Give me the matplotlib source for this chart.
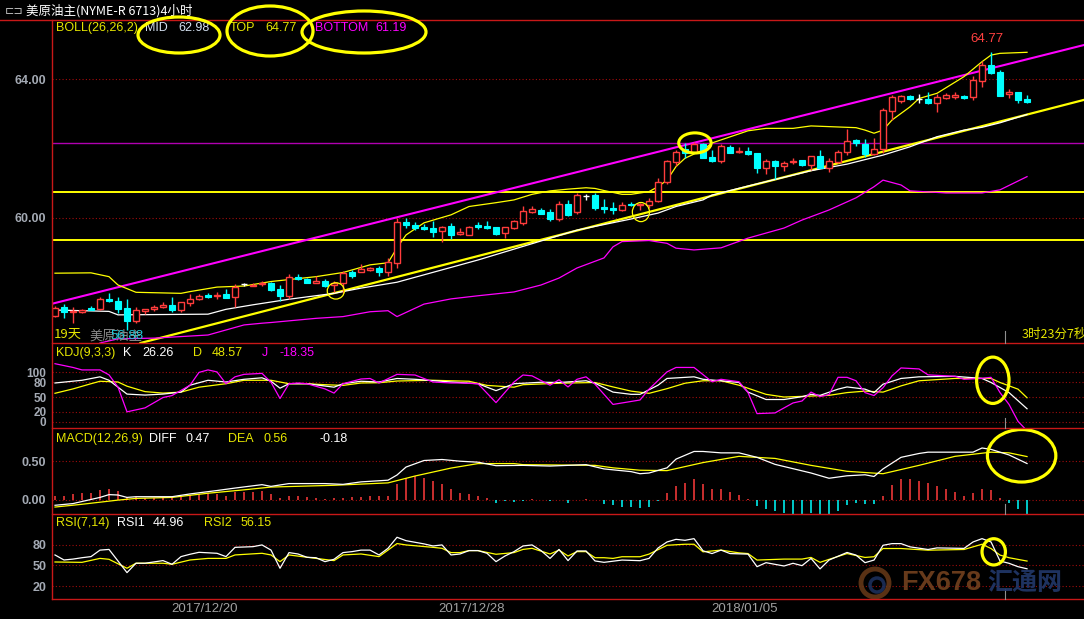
import matplotlib
matplotlib.use('Agg')
import matplotlib.pyplot as plt
from matplotlib.patches import Rectangle, Ellipse
from matplotlib.lines import Line2D

# ---------------- data ----------------
opens = [57.19,57.43,57.29,57.30,57.41,57.37,57.67,57.62,57.40,57.02,
         57.33,57.37,57.43,57.50,57.35,57.56,57.66,57.78,57.75,57.80,
         57.72,58.09,58.04,58.10,58.13,57.95,57.74,58.31,58.24,58.14,
         58.19,58.07,58.12,58.43,58.45,58.50,58.55,58.44,58.71,59.89,
         59.80,59.75,59.71,59.62,59.76,59.54,59.52,59.79,59.78,59.73,
         59.56,59.72,59.86,60.18,60.24,60.17,59.97,60.39,60.17,60.64,
         60.65,60.31,60.28,60.24,60.41,60.37,60.38,60.50,61.04,61.62,
         62.00,61.90,62.13,61.75,61.64,62.03,61.89,61.92,61.86,61.44,
         61.64,61.51,61.61,61.66,61.52,61.78,61.45,61.62,61.90,62.24,
         62.13,61.84,61.99,63.09,63.38,63.51,63.42,63.42,63.32,63.46,
         63.48,63.51,63.49,63.95,64.40,64.20,63.56,63.63,63.42]
highs = [57.47,57.52,57.43,57.38,57.46,57.73,57.83,57.73,57.66,57.43,
         57.38,57.48,57.59,57.72,57.59,57.80,57.81,57.84,57.88,57.95,
         58.10,58.13,58.12,58.18,58.17,58.07,58.38,58.38,58.27,58.33,
         58.24,58.19,58.46,58.50,58.68,58.60,58.62,58.84,60.00,60.01,
         59.88,59.82,59.92,59.77,59.86,59.70,59.77,59.88,59.91,59.75,
         59.75,59.94,60.35,60.35,60.28,60.25,60.49,60.52,60.73,60.69,
         60.73,60.54,60.47,60.45,60.47,60.43,60.58,61.14,61.66,61.95,
         62.15,62.19,62.15,61.95,62.13,62.10,62.03,62.03,61.87,61.69,
         61.66,61.64,61.74,61.68,61.79,61.95,61.74,61.97,62.56,62.27,
         62.27,62.29,63.18,63.54,63.54,63.54,63.57,63.63,63.57,63.61,
         63.62,63.54,64.09,64.53,64.77,64.26,63.70,63.63,63.53]
lows = [57.15,57.11,56.97,57.26,57.34,57.35,57.59,57.26,56.78,56.97,
        57.23,57.32,57.40,57.29,57.28,57.47,57.64,57.70,57.66,57.69,
        57.45,58.04,58.03,58.03,57.91,57.61,57.66,58.20,58.12,58.12,
        58.02,57.88,57.84,58.27,58.43,58.48,58.33,58.34,58.56,59.70,
        59.65,59.65,59.46,59.32,59.39,59.50,59.51,59.68,59.68,59.51,
        59.43,59.68,59.81,60.14,60.11,59.91,59.91,60.07,60.12,60.52,
        60.23,60.14,60.11,60.21,60.35,60.23,60.28,60.45,60.97,61.49,
        61.74,61.86,61.72,61.62,61.57,61.86,61.86,61.81,61.30,61.28,
        61.11,61.35,61.55,61.51,61.38,61.43,61.33,61.57,61.81,62.07,
        61.76,61.81,61.86,62.82,63.32,63.40,63.32,63.28,63.06,63.42,
        63.43,63.42,63.40,63.76,64.14,63.52,63.44,63.32,63.32]
closes = [57.40,57.29,57.32,57.34,57.35,57.66,57.61,57.38,57.02,57.35,
          57.37,57.43,57.50,57.35,57.57,57.66,57.76,57.73,57.78,57.71,
          58.02,58.09,58.08,58.14,57.93,57.74,58.29,58.24,58.13,58.18,
          58.05,58.12,58.41,58.34,58.54,58.55,58.44,58.73,59.89,59.80,
          59.72,59.68,59.61,59.75,59.52,59.60,59.75,59.73,59.72,59.54,
          59.73,59.91,60.20,60.26,60.12,59.97,60.39,60.09,60.65,60.64,
          60.30,60.27,60.24,60.37,60.37,60.40,60.50,61.04,61.63,61.90,
          61.87,62.13,61.74,61.64,62.07,61.87,61.93,61.85,61.44,61.64,
          61.50,61.57,61.64,61.52,61.77,61.44,61.63,61.89,62.23,62.15,
          61.84,62.00,63.10,63.47,63.51,63.42,63.42,63.32,63.48,63.53,
          63.53,63.45,63.97,64.40,64.18,63.52,63.63,63.40,63.35]

boll_top_idx = [0,4,6,7,9,14,15,18,21,24,29,32,35,37,38,39,41,44,46,49,51,53,55,57,59,60,61,63,64,66,67,
                68,69,70,72,73,77,79,82,84,86,89,90,91,92,93,95,96,98,101,103,104,105,108]
boll_top_val = [58.41,58.42,58.31,58.07,57.86,57.83,57.88,58.01,58.04,58.17,58.31,58.43,58.65,58.71,59.14,
                59.51,59.86,60.09,60.33,60.44,60.52,60.68,60.78,60.83,60.87,60.85,60.79,60.68,60.68,60.76,
                60.90,61.09,61.48,61.72,61.96,62.16,62.51,62.58,62.58,62.65,62.63,62.60,62.53,62.44,62.53,
                62.82,63.20,63.44,63.59,64.07,64.50,64.69,64.74,64.77]
boll_mid_idx = [0,6,7,17,19,22,26,31,34,38,47,58,64,67,69,72,73,77,81,84,88,92,95,98,101,103,105,108]
boll_mid_val = [57.35,57.31,57.21,57.23,57.37,57.50,57.66,57.83,57.98,58.15,58.79,59.65,59.97,60.14,60.33,
                60.52,60.66,60.92,61.17,61.36,61.55,61.81,62.05,62.34,62.53,62.61,62.74,62.98]
boll_bot_idx = [5,7,11,17,21,23,24,29,32,35,37,38,41,44,47,51,54,56,58,61,62,63,66,68,69,71,74,77,81,83,
                86,89,91,92,94,95,99,103,105,108]
boll_bot_val = [56.40,56.52,56.54,56.63,56.92,56.97,56.99,57.11,57.16,57.30,57.33,57.16,57.52,57.67,57.76,
                57.87,58.07,58.27,58.56,58.85,59.17,59.32,59.35,59.27,59.13,59.08,59.14,59.42,59.71,59.94,
                60.23,60.58,60.90,61.09,60.95,60.78,60.72,60.72,60.81,61.19]

# hand-drawn lines on the chart (bar position, price)
channel_top_idx = [-0.33, 114.33]
channel_top_val = [57.53, 64.98]
channel_bot_idx = [9.5, 114.33]
channel_bot_val = [56.40, 63.40]
level_prices = [62.16, 60.75, 59.37]

k_idx = [0,3,5,6,8,10,12,14,15,17,19,21,23,24,25,26,28,31,32,34,36,38,40,44,47,49,51,52,54,56,59,60,62,64,
         65,67,68,71,72,74,76,77,79,81,83,84,85,87,88,90,91,92,94,96,100,103,104,106,108]
k_val = [78.5,84,91,84,56,54,56,60,74,84,80.5,86,89,82,68,77,77,70,77,82,80.5,87.6,86,80.5,77,63,77,78,80,
         79.5,83,78,60,55.5,55.5,74,87.7,91,86,83,79.5,60,45,45,50.7,55.5,53.4,66,70.5,66,59,76,87.7,91,92,
         87.7,79.5,59,26.26]
d_idx = [0,2,4,5,7,8,10,12,14,16,19,21,24,26,28,30,32,34,36,38,42,46,48,51,52,56,60,62,64,66,68,70,72,74,
         76,79,81,84,86,88,90,92,94,96,100,104,105,107,108]
d_val = [57.6,66.5,77,82,80.5,72,61,58,60,70,77,84,84,77,77,75,73.6,78.5,79,82.5,84,82,73.6,70,75,78,79.5,
         70.5,62,57.5,67,78,83,83,74,55.5,50,52,53.4,59,62,60,72.6,83,87.7,87.7,79.5,66,48.57]
j_idx = [0,2,3,5,6,7,8,10,12,13,15,16,17,18,19,20,21,23,24,25,26,27,28,30,31,32,34,35,36,38,40,42,44,45,
         47,49,51,52,53,55,56,57,58,59,60,62,65,66,68,69,71,73,74,76,77,78,80,82,83,84,85,86,87,88,89,90,
         91,92,93,94,96,97,100,101,103,104,105,106,107,108]
j_val = [117.6,110,105,105,95,70,20,28,49,53,74,100,105,101,77,91,96,98,80,47,77,78.5,77,66.5,58,77,86.6,
         87.6,78.5,96,94.7,80.5,78.5,78.5,77,38.7,80.5,94.7,93,74,85,70.5,86,91,76,35,44,66,101,110,110,81,
         86,81,59,16.4,17.8,38,42,60,51,55,90,90,83,59,53,69,93,109,107,95,92,86,88,90,59,35,0.7,-18.35]

diff_idx = [0,2,3,5,6,7,8,9,13,15,18,20,23,24,26,30,32,34,37,38,39,41,43,45,47,49,52,55,59,61,64,65,66,68,
            69,71,72,74,76,78,80,84,86,88,90,91,92,94,96,97,100,102,103,104,106,108]
diff_val = [-0.071,-0.049,-0.022,0.031,0.067,0.062,0.031,0.04,0.04,0.076,0.12,0.152,0.196,0.174,0.21,0.21,
            0.20,0.232,0.254,0.321,0.424,0.509,0.522,0.50,0.487,0.442,0.446,0.437,0.455,0.40,0.365,0.338,
            0.347,0.414,0.527,0.626,0.626,0.608,0.608,0.55,0.459,0.347,0.279,0.311,0.324,0.302,0.40,0.55,
            0.60,0.617,0.617,0.617,0.671,0.653,0.581,0.47]
dea_idx = [0,3,7,9,13,17,21,24,31,37,40,44,47,51,52,60,62,65,68,72,76,80,84,88,92,96,100,104,106,108]
dea_val = [-0.094,-0.058,-0.004,0.018,0.031,0.085,0.129,0.165,0.188,0.219,0.308,0.411,0.469,0.469,0.455,
           0.446,0.414,0.383,0.378,0.482,0.563,0.536,0.446,0.369,0.338,0.446,0.563,0.617,0.608,0.56]
macd_hist = [0.045,0.054,0.076,0.089,0.089,0.13,0.143,0.11,0.03,0.031,0.022,0.022,0.031,0.031,0.04,0.063,
             0.076,0.085,0.076,0.054,0.107,0.098,0.098,0.12,0.076,0.022,0.054,0.054,0.04,0.022,0.013,0.022,
             0.022,0.031,0.04,0.045,0.045,0.054,0.21,0.277,0.308,0.277,0.241,0.21,0.143,0.089,0.076,0.045,
             0.02,-0.036,-0.01,-0.03,-0.01,0.005,-0.005,-0.02,-0.005,-0.036,0.0,0.01,-0.005,-0.05,-0.07,
             -0.09,-0.09,-0.1,-0.09,-0.01,0.086,0.18,0.22,0.266,0.21,0.144,0.144,0.10,0.059,0.01,-0.081,
             -0.113,-0.149,-0.171,-0.185,-0.194,-0.171,-0.194,-0.18,-0.14,-0.072,-0.036,-0.059,-0.059,0.054,
             0.189,0.266,0.266,0.248,0.212,0.18,0.144,0.099,0.054,0.09,0.144,0.13,0.02,-0.036,-0.113,-0.18]

rsi1_idx = [0,1,2,3,4,5,6,8,9,10,12,13,14,15,16,18,19,20,22,23,24,25,26,27,28,29,30,31,32,33,34,35,36,37,
            38,39,41,42,43,44,45,46,47,48,49,50,51,52,53,54,55,56,57,58,59,60,61,63,65,66,67,68,69,70,71,72,
            73,74,75,77,78,79,81,82,83,84,85,86,88,89,90,91,92,93,94,95,97,98,101,102,103,104,105,106,107,108]
rsi1_val = [65,57.7,59,61,62.6,72,73,39.4,53,53,56.8,51.5,62.6,66,68.8,67.4,62.6,76,77,79.5,72,45.7,68.4,
            66.4,61.6,61,55.3,58.7,68.4,69.8,72,72,65,74.6,90.6,85.7,81,78,79.5,65,66.4,71.3,71.3,67.4,55.3,
            63.5,69.8,78,79.5,71.3,60,73,56.8,70.8,70.8,56.3,54.3,57.6,56.7,60,75,83.8,87.6,86.2,88.6,71,67,
            72,67,66.2,48,53.8,49,52.9,49.5,60,44.8,57.6,68.6,64.8,53.8,57.6,79,81.4,81.4,76.7,72.9,75.2,74.5,
            83.8,88.6,83.8,56.2,52.9,48,44.96]
rsi2_idx = [0,3,5,6,8,9,12,13,15,17,19,20,23,24,25,26,29,31,32,34,36,37,38,39,42,43,44,45,46,47,49,51,52,
            53,55,56,57,58,59,60,61,62,63,65,66,68,70,71,72,74,76,77,78,81,83,84,85,86,88,90,91,92,94,97,
            101,103,104,105,106,108]
rsi2_val = [54.8,54.3,60,58.7,45.7,53,53,51.5,57.7,60,60,65,67.4,65,55.3,65,60,56.8,65,66.4,62.6,72,81.5,
            79.5,76,74.6,68.4,68.4,71.3,71.3,66,68.4,73,74.6,66.4,72,63.5,69.8,69.8,61,61,60,62.4,62.4,66.2,
            79,80.5,80.5,69.5,72,68,67,57.6,59,59,61.4,54.3,58.6,67,61.4,62.4,74.3,74.3,71.9,72.9,80.5,74.3,
            64.8,61,56.15]

date_labels = ['2017/12/20', '2017/12/28', '2018/01/05']
date_pos = [16.6, 46.3, 76.6]
high_mark = 64.77

# ---------------- style ----------------
W, H = 1084, 619
fig = plt.figure(figsize=(W / 100, H / 100), dpi=100)
fig.patch.set_facecolor('black')

LAT = 'Liberation Sans'
CJK = ['Noto Sans CJK SC', 'DejaVu Sans']
FRAME = '#c81818'
GRID = '#a00c0c'
YEL = '#ffff00'
HYEL = '#e6e600'
MAG = '#ff00ff'
CYAN = '#00ffff'
CRED = '#ff3c3c'
WHITE = '#ffffff'
TICK = '#a4aab4'

XMIN, XMAX = -1 / 3, 114.33
X0 = 52


def panel(ytop, ybot, ylim):
    ax = fig.add_axes([X0 / W, 1 - ybot / H, (W - X0) / W, (ybot - ytop) / H])
    ax.set_facecolor('black')
    ax.set_xlim(XMIN, XMAX)
    ax.set_ylim(*ylim)
    for s in ax.spines.values():
        s.set_visible(False)
    ax.tick_params(length=0, labelcolor=TICK, labelsize=9, pad=4)
    ax.set_xticks([])
    return ax


def yticks(ax, vals, fmt, size=9):
    ax.set_yticks(vals)
    ax.set_yticklabels([fmt.format(v) for v in vals], fontweight='bold', family=LAT, fontsize=size)
    for v in vals:
        ax.axhline(v, color=GRID, lw=0.8, ls=(0, (1, 2)), zorder=0)


def ftext(x, y, s, color, size=9, family=LAT, ha='left', **kw):
    fig.text(x / W, 1 - y / H, s, color=color, fontsize=size, family=family,
             ha=ha, va='center', **kw)


def fline(xs, ys, color, lw=1.0):
    fig.add_artist(Line2D([x / W for x in xs], [1 - y / H for y in ys],
                          color=color, lw=lw, transform=fig.transFigure))


def fellipse(cx, cy, w, h, lw=2.3):
    fig.add_artist(Ellipse((cx / W, 1 - cy / H), w / W, h / H, fill=False,
                           ec=YEL, lw=lw, transform=fig.transFigure, zorder=20))


# ---------------- main price panel ----------------
axm = panel(20, 343, (56.40, 65.70))
yticks(axm, [60, 64], '{:.2f}')

axm.plot(channel_top_idx, channel_top_val, color=MAG, lw=1.5, zorder=2)
axm.plot(channel_bot_idx, channel_bot_val, color=YEL, lw=1.6, zorder=2)
axm.axhline(level_prices[0], color='#b000b0', lw=1.0, zorder=1)
axm.axhline(level_prices[1], color=YEL, lw=1.4, zorder=1)
axm.axhline(level_prices[2], color=YEL, lw=1.4, zorder=1)

axm.plot(boll_top_idx, boll_top_val, color=YEL, lw=0.9, zorder=3)
axm.plot(boll_mid_idx, boll_mid_val, color=WHITE, lw=0.9, zorder=3)
axm.plot(boll_bot_idx, boll_bot_val, color=MAG, lw=0.9, zorder=3)

bw = 0.7
for i, (o, h, l, c) in enumerate(zip(opens, highs, lows, closes)):
    if c > o:
        axm.vlines(i, c, h, color=CRED, lw=1, zorder=4)
        axm.vlines(i, l, o, color=CRED, lw=1, zorder=4)
        axm.add_patch(Rectangle((i - bw / 2, o), bw, c - o, fc='black', ec=CRED, lw=1, zorder=5))
    elif c < o:
        axm.vlines(i, l, h, color=CYAN, lw=1, zorder=4)
        axm.add_patch(Rectangle((i - bw / 2, c), bw, o - c, fc=CYAN, ec=CYAN, lw=0.8, zorder=5))
    else:
        axm.vlines(i, l, h, color=WHITE, lw=1, zorder=4)
        axm.hlines(o, i - bw / 2, i + bw / 2, color=WHITE, lw=1, zorder=5)

hi_i = highs.index(max(highs))
axm.text(hi_i - 0.4, high_mark + 0.22, f'{high_mark:.2f}', color='#ff4040', fontsize=9.5,
         family=LAT, ha='center', va='bottom')

# annotations in the price panel
axm.add_patch(Ellipse((71.1, 62.16), 3.6, 0.58, fill=False, ec=YEL, lw=2.2, zorder=8))
axm.add_patch(Ellipse((65.1, 60.17), 1.9, 0.55, fill=False, ec=YEL, lw=0.9, zorder=8))
axm.add_patch(Ellipse((31.2, 57.90), 1.9, 0.47, fill=False, ec=YEL, lw=0.9, zorder=8))

# ---------------- KDJ panel ----------------
axk = panel(343, 428, (-12.8, 159.6))
yticks(axk, [0, 20, 50, 80, 100], '{:d}', size=8.5)
axk.plot(d_idx, d_val, color=YEL, lw=0.9)
axk.plot(k_idx, k_val, color=WHITE, lw=0.9)
axk.plot(j_idx, j_val, color=MAG, lw=0.9)
axk.add_patch(Ellipse((104.2, 84.0), 3.6, 94, fill=False, ec=YEL, lw=2.3, zorder=8))

# ---------------- MACD panel ----------------
axd = panel(428, 514, (-0.184, 0.930))
yticks(axd, [0.0, 0.5], '{:.2f}')
for i, v in enumerate(macd_hist):
    axd.vlines(i, 0, v, color=(CRED if v >= 0 else CYAN), lw=1.1)
axd.plot(dea_idx, dea_val, color=YEL, lw=0.9)
axd.plot(diff_idx, diff_val, color=WHITE, lw=0.9)
axd.add_patch(Ellipse((107.4, 0.57), 7.6, 0.68, fill=False, ec=YEL, lw=2.3, zorder=8, clip_on=False))

# ---------------- RSI panel ----------------
axr = panel(514, 599, (1.2, 124.3))
yticks(axr, [20, 50, 80], '{:d}')
axr.plot(rsi2_idx, rsi2_val, color=YEL, lw=0.9)
axr.plot(rsi1_idx, rsi1_val, color=WHITE, lw=0.9)
axr.add_patch(Ellipse((104.3, 69.5), 2.6, 38, fill=False, ec=YEL, lw=2.3, zorder=8))
axr.set_xticks(date_pos)
axr.set_xticklabels(date_labels, color='#a0a0a0', fontsize=9.5, family=LAT)
axr.tick_params(axis='x', length=0, pad=3)

# ---------------- frame lines ----------------
fline([0, W], [19.5, 19.5], FRAME, 1.0)
for yy in (343, 428, 514, 599):
    fline([X0, W], [yy, yy], FRAME, 1.0)
fline([X0, X0], [19.5, 599], FRAME, 1.0)
for (a, b) in ((331, 343), (418, 428), (504, 514), (589, 599)):
    fline([1005, 1005], [a, b], '#909090', 0.8)

# ---------------- texts ----------------
ftext(5, 11, '⊏⊐', '#c0c0c0', 8, family='DejaVu Sans')
ftext(26, 11, '美原油主(NYME-R 6713)4小时', WHITE, 9, family=CJK)

ftext(56, 28, 'BOLL(26,26,2)', HYEL)
ftext(145, 28, 'MID', '#d4e0f0')
ftext(178, 28, f'{boll_mid_val[-1]:.2f}', '#d4e0f0')
ftext(230, 28, 'TOP', HYEL)
ftext(265, 28, f'{boll_top_val[-1]:.2f}', HYEL)
ftext(315, 28, 'BOTTOM', MAG)
ftext(375, 28, f'{boll_bot_val[-1]:.2f}', MAG)

ftext(56, 353, 'KDJ(9,3,3)', HYEL)
ftext(123, 353, 'K', WHITE)
ftext(142, 353, f'{k_val[-1]:.2f}', WHITE)
ftext(193, 353, 'D', HYEL)
ftext(212, 353, f'{d_val[-1]:.2f}', HYEL)
ftext(262, 353, 'J', MAG)
ftext(279, 353, f'{j_val[-1]:.2f}', MAG)

ftext(56, 439, 'MACD(12,26,9)', HYEL)
ftext(149, 439, 'DIFF', WHITE)
ftext(185, 439, f'{diff_val[-1]:.2f}', WHITE)
ftext(228, 439, 'DEA', HYEL)
ftext(264, 439, f'{dea_val[-1]:.2f}', HYEL)
ftext(319, 439, f'{macd_hist[-1]:.2f}', WHITE)

ftext(56, 523, 'RSI(7,14)', HYEL)
ftext(117, 523, 'RSI1', WHITE)
ftext(153, 523, f'{rsi1_val[-1]:.2f}', WHITE)
ftext(204, 523, 'RSI2', HYEL)
ftext(241, 523, f'{rsi2_val[-1]:.2f}', HYEL)

ftext(54, 334, '19天', HYEL, 9.5, family=CJK)
ftext(89, 336, '美原油主', '#8a8a8a', 9.5, family=CJK)
ftext(110, 336, '56.88', '#20c8d8', 9.5)
ftext(1022, 334, '3时23分7秒', HYEL, 9, family=CJK)

# header annotation ellipses
fellipse(179, 35, 82, 36)
fellipse(270, 31, 86, 50)
fellipse(364, 32, 124, 42)

# watermark
fig.add_artist(Ellipse((875 / W, 1 - 583 / H), 28 / W, 28 / H, fill=False, ec='#6a3a18',
                       lw=3.5, transform=fig.transFigure, alpha=0.85))
fig.add_artist(Ellipse((877 / W, 1 - 585 / H), 14 / W, 14 / H, fill=False, ec='#1e3260',
                       lw=2.5, transform=fig.transFigure, alpha=0.85))
ftext(901, 583, 'FX678', '#7a4520', 19.5, family=LAT, fontweight='bold', alpha=0.85)
ftext(987, 583, '汇通网', '#22386a', 18, family=CJK, fontweight='bold', alpha=0.9)

fig.savefig('out.png', dpi=100, facecolor='black')
